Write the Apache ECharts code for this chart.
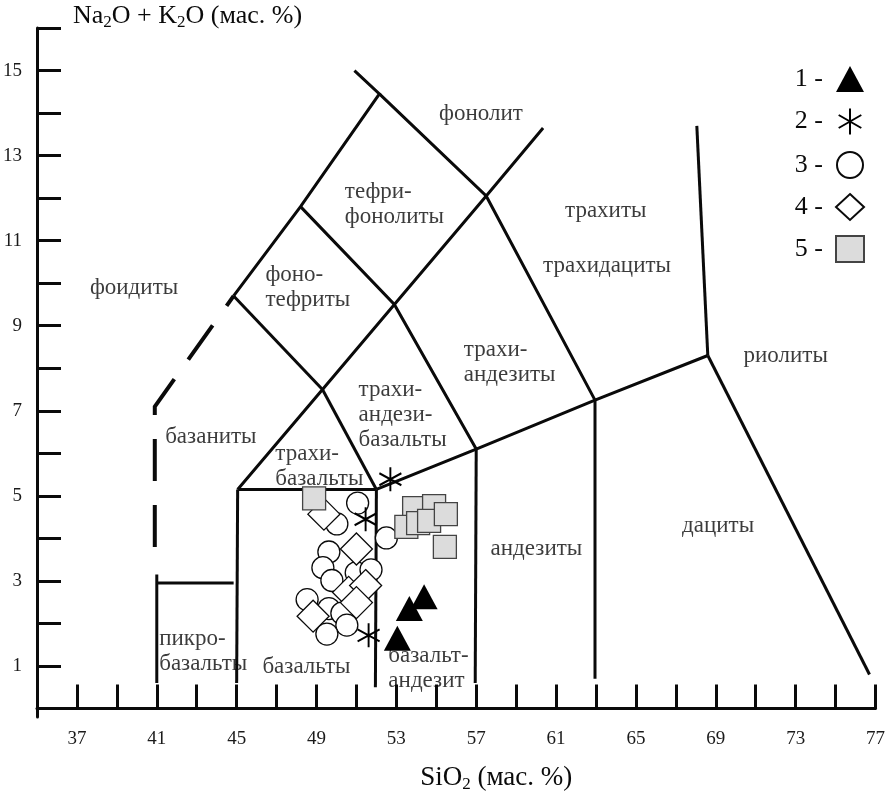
<!DOCTYPE html>
<html><head><meta charset="utf-8">
<script src="https://cdn.jsdelivr.net/npm/echarts@6/dist/echarts.min.js"></script>
<style>html,body{margin:0;padding:0;background:#fff}#c{width:888px;height:798px}</style>
</head><body><div id="c"></div>
<script>
// axis ticks & labels
const xTicks = [37,39,41,43,45,47,49,51,53,55,57,59,61,63,65,67,69,71,73,75,77];
const xTickLabels = [37,41,45,49,53,57,61,65,69,73,77];
const yTicks = [1,2,3,4,5,6,7,8,9,10,11,12,13,14,15,16];
const yTickLabels = [1,3,5,7,9,11,13,15];

// sample groups (SiO2, Na2O+K2O)
const triangles = [[54.39,2.63],[53.65,2.35],[53.05,1.65]];
const asterisks = [[52.70,5.39],[51.46,4.45],[51.61,1.72]];
const circles = [[51.06,4.83],[50.02,4.34],[49.62,3.68],[49.32,3.31],[49.77,3.01],[50.99,3.19],[51.73,3.26],
                 [48.53,2.56],[49.62,2.35],[50.27,2.24],[50.52,1.96],[49.52,1.75],[52.50,4.01]];
const diamonds = [[49.37,4.57],[51.00,3.75],[50.61,2.73],[51.46,2.89],[51.00,2.49],[48.83,2.17]];
const squares = [[48.88,4.94],[53.89,4.71],[54.89,4.76],[53.50,4.27],[54.09,4.36],[54.64,4.41],[55.48,4.57],[55.43,3.80]];

// TAS field boundaries
const boundaries = [
  [[41.0,0.6],[41.0,3.15]],
  [[41.0,2.95],[44.85,2.95]],
  [[45.0,0.6],[45.05,5.15]],
  [[45.05,5.15],[52.0,5.15]],
  [[51.95,0.5],[52.0,5.15]],
  [[52.0,5.15],[57.0,6.1],[62.95,7.25],[68.6,8.3]],
  [[56.95,0.6],[57.0,6.1]],
  [[62.95,0.7],[62.95,7.25]],
  [[68.6,8.3],[76.7,0.8]],
  [[68.6,8.3],[68.05,13.7]],
  [[45.05,5.15],[49.3,7.5],[52.9,9.5],[57.5,12.05],[60.35,13.65]],
  [[49.3,7.5],[52.0,5.15]],
  [[49.3,7.5],[44.85,9.7]],
  [[44.85,9.7],[48.2,11.8],[52.15,14.45],[50.9,15.0]],
  [[48.2,11.8],[52.9,9.5],[57.0,6.1]],
  [[52.15,14.45],[57.5,12.05],[62.95,7.25]]
];
const dashedBoundary = [[40.9,3.8],[40.9,7.1],[44.85,9.7]];

// field names [text, SiO2 (left edge), Na2O+K2O (centre)]
const regionNames = [
  ['фонолит',55.14,13.98],
  ['тефри-\nфонолиты',50.42,11.84],
  ['фоидиты',37.65,9.89],
  ['фоно-\nтефриты',46.44,9.90],
  ['трахиты',61.45,11.69],
  ['трахидациты',60.35,10.40],
  ['трахи-\nандезиты',56.38,8.14],
  ['риолиты',70.39,8.30],
  ['трахи-\nандези-\nбазальты',51.11,6.90],
  ['базаниты',41.42,6.39],
  ['трахи-\nбазальты',46.94,5.68],
  ['андезиты',57.72,3.75],
  ['дациты',67.31,4.29],
  ['пикро-\nбазальты',41.12,1.34],
  ['базальты',46.29,0.98],
  ['базальт-\nандезит',52.60,0.95]
];

const FONT = 'Liberation Serif';
const INK = '#0a0a0a';
const chart = echarts.init(document.getElementById('c'), null, {renderer:'canvas'});

const lineSeries = boundaries.map(pts => ({
  type:'line', data: pts, symbol:'none', silent:true, z:2, animation:false,
  lineStyle:{color:INK, width:3, cap:'butt', join:'miter'}
}));
lineSeries.push({
  type:'line', data: dashedBoundary, symbol:'none', silent:true, z:2, animation:false,
  lineStyle:{color:INK, width:4, type:[42,24], cap:'butt', join:'miter'}
});

const asteriskPath = 'path://M10,0L10,20M1.3,5L18.7,15M1.3,15L18.7,5';

const option = {
  animation:false,
  backgroundColor:'#fff',
  grid:{left:33, right:10, top:28, bottom:75.5, containLabel:false},
  xAxis:{
    type:'value', min:35, max:77,
    name:'{a|SiO}{s|2}{a| (мас. %)}', nameLocation:'middle', nameGap:46,
    nameTextStyle:{padding:[0,0,0,80], rich:{a:{fontFamily:FONT,fontSize:27,color:INK}, s:{fontFamily:FONT,fontSize:17,color:INK,padding:[13,0,0,0]}}},
    axisLine:{lineStyle:{color:INK,width:3}},
    axisTick:{inside:true,length:24,customValues:xTicks,lineStyle:{color:INK,width:3}},
    axisLabel:{customValues:xTickLabels,margin:13,fontFamily:FONT,fontSize:19,color:'#1a1a1a'},
    splitLine:{show:false}
  },
  yAxis:{
    type:'value', min:-0.2, max:16,
    name:'{a|Na}{s|2}{a|O + K}{s|2}{a|O (мас. %)}', nameLocation:'end', nameGap:-3,
    nameTextStyle:{align:'left', padding:[0,0,0,36], rich:{a:{fontFamily:FONT,fontSize:26,color:INK}, s:{fontFamily:FONT,fontSize:17,color:INK,padding:[12,0,0,0]}}},
    axisLine:{lineStyle:{color:INK,width:3}},
    axisTick:{inside:true,length:24,customValues:yTicks,lineStyle:{color:INK,width:3}},
    axisLabel:{customValues:yTickLabels,margin:15,fontFamily:FONT,fontSize:19,color:'#1a1a1a'},
    splitLine:{show:false}
  },
  legend:{
    orient:'vertical', right:18, top:61, itemGap:14, itemWidth:28, itemHeight:26, align:'right',
    data:['1','2','3','4','5'],
    formatter: n => n + ' -',
    textStyle:{fontFamily:FONT, fontSize:26, color:INK, padding:[0,8,0,0]},
    selectedMode:false
  },
  series:[
    ...lineSeries,
    {type:'scatter', data: regionNames.map(r => ({name:r[0], value:[r[1], r[2]]})), symbolSize:0, silent:true, z:1,
     label:{show:true, formatter:'{b}', position:[0,0], align:'left', verticalAlign:'middle',
            fontFamily:FONT, fontSize:23, lineHeight:25, color:INK}},
    {name:'3', type:'scatter', data:circles, symbol:'circle', symbolSize:22, z:3,
     itemStyle:{color:'#fff', borderColor:INK, borderWidth:1.3, opacity:1}},
    {name:'4', type:'scatter', data:diamonds, symbol:'diamond', symbolSize:32, z:3,
     itemStyle:{color:'#fff', borderColor:INK, borderWidth:1.3, opacity:1}},
    {name:'5', type:'scatter', data:squares, symbol:'rect', symbolSize:23, z:3,
     itemStyle:{color:'#dcdcdc', borderColor:'#444', borderWidth:1.3, opacity:1}},
    {name:'1', type:'scatter', data:triangles, symbol:'triangle', symbolSize:[27,25], z:3,
     itemStyle:{color:'#000', opacity:1}},
    {name:'2', type:'scatter', data:asterisks, symbol:asteriskPath, symbolSize:[22,24], z:4,
     itemStyle:{color:'none', borderColor:'#000', borderWidth:2, opacity:1}}
  ]
};
chart.setOption(option);
</script></body></html>
